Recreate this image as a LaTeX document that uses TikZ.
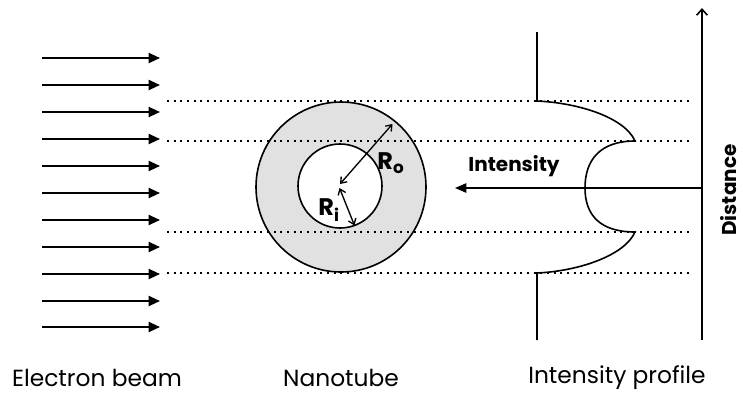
\documentclass[tikz,border=0pt]{standalone}
\usepackage{fontspec}
\setmainfont{Poppins}
\usetikzlibrary{arrows.meta}

\tikzset{every picture/.style={line width=0.75pt}}
\tikzset{
  beamarrow/.style={line width=1.5pt,-{Triangle[length=8.5pt,width=7.5pt]}},
  dotguide/.style={line width=1.5pt,dash pattern=on 1.5pt off 3.5pt},
  radiusarrow/.style={line width=1pt,{Straight Barb[length=4pt,width=6pt]}-{Straight Barb[length=4pt,width=6pt]}},
  captiontext/.style={inner sep=0.75pt,font=\fontsize{17.5}{21}\selectfont},
  boldtext/.style={inner sep=0.75pt,font=\fontsize{15}{18}\selectfont\bfseries},
  radiustext/.style={inner sep=0.75pt,font=\fontsize{18}{21}\selectfont\bfseries}
}

\begin{document}
\begin{tikzpicture}[x=0.75pt,y=0.75pt,yscale=-1,xscale=1]
\useasboundingbox (0,0) rectangle (743,394);

%Electron beam arrows
\draw [beamarrow] (42,58) -- (160,58) ;
\draw [beamarrow] (42,85) -- (160,85) ;
\draw [beamarrow] (42,112) -- (160,112) ;
\draw [beamarrow] (42,139) -- (160,139) ;
\draw [beamarrow] (42,166) -- (160,166) ;
\draw [beamarrow] (42,193) -- (160,193) ;
\draw [beamarrow] (42,220) -- (160,220) ;
\draw [beamarrow] (42,247) -- (160,247) ;
\draw [beamarrow] (42,274) -- (160,274) ;
\draw [beamarrow] (42,301) -- (160,301) ;
\draw [beamarrow] (42,327) -- (160,327) ;

%Shape: Circle (outer wall)
\draw [line width=1.2pt, fill={rgb, 255:red, 225; green, 225; blue, 225 }] (341,187) circle (85) ;
%Shape: Circle (inner hole)
\draw [line width=1.2pt, fill=white] (340,186) circle (42) ;
%Radius arrows
\coordinate (centre) at (340,184) ;
\coordinate (outerpt) at (392.5,124) ;
\coordinate (centrei) at (339.5,188) ;
\coordinate (innerpt) at (354.5,225.5) ;
\draw [radiusarrow] (centre) -- (outerpt) ;
\draw [radiusarrow] (centrei) -- (innerpt) ;

%Intensity profile
\draw [line width=1.2pt] (537,32) -- (537,101) .. controls (580,103) and (625,118) .. (635,141)
  .. controls (600,141) and (585,160) .. (585,188) .. controls (585,215) and (600,232) .. (635,232)
  .. controls (625,255) and (580,271) .. (537,273) -- (537,340) ;

%Distance axis
\coordinate (axisbot) at (702,340) ;
\coordinate (axistop) at (702,8) ;
\draw [line width=1.2pt, -{Straight Barb[length=4.5pt,width=8pt]}] (axisbot) -- (axistop) ;
%Intensity arrow
\coordinate (axismid) at (702,188) ;
\coordinate (arrowend) at (455,188) ;
\draw [line width=1.2pt, -{Triangle[length=8.5pt,width=7pt]}] (axismid) -- (arrowend) ;

%Dotted guide lines
\draw [dotguide] (167,101) -- (690,101) ;
\draw [dotguide] (167,141) -- (690,141) ;
\draw [dotguide] (167,232) -- (690,232) ;
\draw [dotguide] (167,273) -- (690,273) ;

% Text Node
\draw (391,163) node (ro) [radiustext] {R\textsubscript{o}};
% Text Node
\draw (329,210) node (ri) [radiustext] {R\textsubscript{i}};
% Text Node
\draw (514,166) node (intens) [boldtext] {Intensity};
% Text Node
\draw (729,190) node (dist) [boldtext, rotate=90] {Distance};
% Text Node
\draw (97,378) node (beam) [captiontext] {Electron beam};
% Text Node
\draw (341,378) node (tube) [captiontext] {Nanotube};
% Text Node
\draw (617,378) node (prof) [captiontext] {Intensity profile};

\end{tikzpicture}
\end{document}
